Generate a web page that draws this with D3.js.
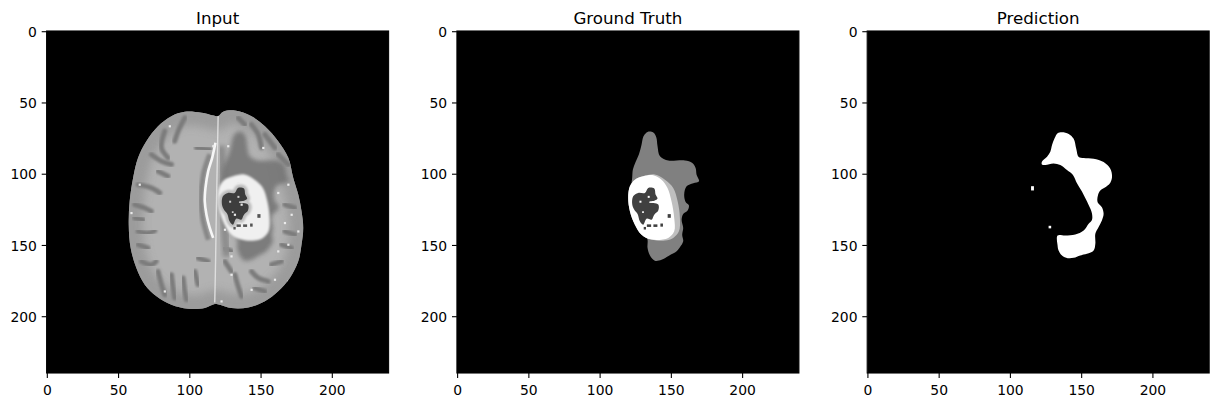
<!DOCTYPE html>
<html><head><meta charset="utf-8">
<script src="https://cdn.jsdelivr.net/npm/d3@7/dist/d3.min.js"></script>
<style>body{margin:0;background:#fff}svg{display:block}</style>
</head><body>
<svg id="fig" width="1222" height="407"></svg>
<script>
// ---- data (image pixel coordinates, 240x240 images) ----
const titles = ["Input", "Ground Truth", "Prediction"];
const tickValues = [0, 50, 100, 150, 200];
const imageSize = 240;

const brainOutline = [[118.7,59.3],[108.2,56.9],[96.5,56.2],[87.1,59.3],[77.7,66.3],[69.5,76.8],[63.7,88.5],[60.2,102.6],[57.8,119],[57.1,135.4],[58.5,151.8],[62.5,165.8],[68.4,177.5],[76.6,185.7],[87.1,191.6],[98.8,194.4],[110.5,193.9],[117.5,191.1],[121,191.6],[129.2,193.9],[141,193.5],[152.7,189.2],[162,182.2],[170.2,172.8],[176.1,161.1],[178.4,149.4],[179.6,137.7],[178.4,126],[176.1,114.3],[172.6,102.6],[169.1,88.5],[162,76.8],[152.7,66.3],[143.3,59.3],[131.6,55.3],[123.4,56.2],[119.9,59.3]];

const sulci = [
 [[96.5,60.4],[91.8,69.8],[89.4,76.8]],
 [[82.4,69.8],[80.1,81.5],[84.7,88.5]],
 [[73.0,86.2],[80.1,90.9],[87.1,93.2]],
 [[63.7,107.3],[73.0,109.6],[78.9,113.1]],
 [[61.3,121.3],[68.4,123.7],[73.0,126.0]],
 [[61.3,130.7],[67.2,131.9]],
 [[63.7,140.1],[70.7,141.2],[75.4,139.6]],
 [[63.7,149.4],[70.7,151.8]],
 [[66.0,161.1],[73.0,163.5],[76.5,161.1]],
 [[77.7,168.2],[80.1,177.5],[82.4,184.6]],
 [[87.1,170.5],[88.3,179.9],[89.4,186.9]],
 [[95.3,172.8],[96.5,182.2],[97.6,188.1]],
 [[103.5,168.2],[105.8,177.5]],
 [[105.8,158.8],[112.9,161.1]],
 [[104.7,81.5],[114.0,82.7]],
 [[77.7,97.9],[84.7,101.4]],
 [[124.6,161.1],[129.2,168.2]],
 [[131.6,170.5],[133.9,178.7],[136.3,185.7]],
 [[143.3,168.2],[148.0,172.8],[155.0,175.2]],
 [[145.6,179.9],[152.7,182.2]],
 [[157.3,163.5],[164.4,161.1]],
 [[164.4,149.4],[171.4,151.8]],
 [[166.7,140.1],[173.7,142.4]],
 [[124.6,151.8],[129.2,154.1]],
 [[143.3,65.1],[148.0,72.1],[150.3,81.5]],
 [[152.7,72.1],[159.7,81.5]],
 [[133.9,60.4],[138.6,65.1]],
 [[162.0,86.2],[169.1,93.2]],
 [[166.7,121.3],[173.7,123.7]]
];

const midline = [[119.9,58],[119.3,90],[118.7,121],[118.1,160],[117.5,190]];
const falx = [[118,78],[115.7,88.5],[112.9,97.9],[111,109.6],[110.5,119],[111.7,128.4],[114,137.7],[116.4,144.7]];
const falxShadow = [[114,86],[109.5,100],[107.8,119],[109.2,132],[113,146]];
const medialBand = [[122,80],[123,100],[123.5,120],[124.5,140],[126,158]];

const brightDots = [[85.9,66.3],[116.4,80.3],[126.9,80.3],[151.5,81.5],[169.1,107.3],[162.0,113.1],[171.4,128.4],[166.7,134.2],[176.1,140.1],[169.1,149.4],[162.0,154.1],[129.2,157.6],[124.6,138.9],[129.2,170.5],[159.7,174.0],[169.1,175.2],[143.3,181.1],[82.4,182.2],[64.8,107.3],[59.0,127.2],[63.7,172.8],[122.2,189.2],[133.9,106.1],[136.3,121.3],[131.6,128.4]];

const edema = [[130.9,72.6],[133.3,70.3],[137.3,70.7],[139.4,74],[140.3,80.3],[142,87.4],[147.8,90.4],[153.7,90.4],[159.5,90.4],[164.7,92.1],[167,95.6],[167.7,100.3],[169.4,104.9],[165.4,106.3],[160.7,108.5],[159,114.3],[160,119.5],[162.3,121.8],[161.4,125.5],[158.3,127.9],[157.2,131.9],[158.3,137.7],[157.6,142.4],[158.3,147.1],[156,151.3],[153.7,154.1],[148.3,157.2],[143.1,160],[138.4,160.7],[134.9,156.9],[133.3,151.8],[133,145],[128,140],[124,133],[122,125],[121.5,117],[121.8,108.5],[122.5,102.6],[123,96.7],[124.9,91.4],[127.2,86.2],[129.1,79.2],[130,74.5]];

const tumorOuter = [[130.2,101.4],[138.4,100.2],[145.5,103.8],[151.3,109.6],[154.4,119.0],[156.0,130.7],[155.3,140.1],[151.3,144.7],[145.5,146.6],[136.1,145.9],[129.1,142.4],[124.4,135.4],[120.9,126.0],[119.7,116.6],[120.9,108.4],[124.4,103.8]];
const tumorEnhancing = [[130.2,101.4],[137.3,100.7],[143.1,103.8],[147.3,109.6],[150.1,119.0],[152.0,130.7],[152.0,140.1],[147.8,144.7],[136.1,145.9],[129.1,142.4],[124.4,135.4],[120.9,126.0],[119.7,116.6],[120.9,108.4],[124.4,103.8]];
const necrotic = [[123.2,115.5],[126.7,113.1],[131.4,113.1],[133.8,109.6],[138.0,110.1],[138.9,114.3],[140.3,117.1],[138.4,118.5],[134.9,119.5],[140.8,121.3],[140.8,125.5],[138.0,128.4],[136.1,131.9],[132.6,131.2],[130.2,135.4],[127.9,133.0],[126.3,127.9],[123.9,124.8],[122.5,120.9]];
const necroticSpots = [[147.4,128.0,2.2,2.6],[132.8,135.2,3.0,1.8],[137.4,135.2,2.8,1.8],[142.3,134.6,1.8,2.2],[130.6,137.0,1.6,1.8]];
const necroticHoles = [[127.6,118.6,1.4,1.4],[133.4,115.2,1.4,1.4],[134.5,119.2,5.5,0.9],[129.5,126.0,1.2,1.2]];

const prediction = [[133.1,71.2],[136.2,70.5],[140.9,71.7],[144.4,75.2],[146.2,82.2],[147.9,88.0],[151.4,88.7],[158.4,89.2],[165.4,91.5],[170.1,96.2],[171.3,102.1],[169.6,106.7],[166.6,109.1],[163.1,111.4],[161.4,114.9],[161.2,119.6],[164.2,123.1],[165.4,127.8],[164.2,132.5],[161.9,137.1],[159.6,141.8],[159.6,148.8],[158.4,153.5],[153.7,155.9],[149.0,157.0],[144.4,158.7],[140.2,158.9],[136.2,157.0],[133.8,153.5],[133.1,150.0],[133.1,143.0],[138.5,143.0],[145.5,142.3],[151.4,139.5],[154.9,134.8],[157.2,132.1],[157.2,127.4],[154.9,121.6],[152.6,116.9],[150.2,112.2],[146.7,106.4],[143.9,100.5],[139.7,97.0],[135.0,93.5],[130.3,92.4],[124.5,93.5],[122.1,93.1],[122.1,91.2],[125.7,87.7],[128.0,84.2],[129.2,79.5],[131.0,74.8]];
const predictionSpecks = [[114.5,108.4,2,3],[126.8,136.2,1.8,1.8]];

// ---- layout ----
const panelLeft0 = 46.6, panelStep = 410.3, panelTop = 31, panelSize = 342;
const svg = d3.select("#fig");
const defs = svg.append("defs");
[["b06",0.6],["b1",1.1],["b2",2.2],["b3",4]].forEach(([id,s])=>{
  defs.append("filter").attr("id",id).attr("x","-20%").attr("y","-20%").attr("width","140%").attr("height","140%")
    .append("feGaussianBlur").attr("stdDeviation",s);
});

const x = d3.scaleLinear().domain([-0.5, imageSize-0.5]).range([0, panelSize]);
const y = d3.scaleLinear().domain([-0.5, imageSize-0.5]).range([0, panelSize]);
const closed = d3.line().x(d=>x(d[0])).y(d=>y(d[1])).curve(d3.curveCatmullRomClosed.alpha(0.5));
const open = d3.line().x(d=>x(d[0])).y(d=>y(d[1])).curve(d3.curveCatmullRom.alpha(0.5));
const font = "DejaVu Sans, Liberation Sans, sans-serif";

titles.forEach((t,i)=>{
  const g = svg.append("g").attr("transform",`translate(${panelLeft0+i*panelStep},${panelTop})`);
  const cid = "clip"+i;
  defs.append("clipPath").attr("id",cid).append("rect").attr("width",panelSize).attr("height",panelSize);
  const img = g.append("g").attr("clip-path",`url(#${cid})`);
  img.append("rect").attr("width",panelSize).attr("height",panelSize).attr("fill","#000");

  if(i===0){
    const bid = "brainclip";
    defs.append("clipPath").attr("id",bid).append("path").attr("d",closed(brainOutline));
    img.append("path").attr("d",closed(brainOutline)).attr("fill","#b2b2b2");
    const b = img.append("g").attr("clip-path",`url(#${bid})`);
    b.append("path").attr("d",closed(brainOutline)).attr("fill","none").attr("stroke","#989898").attr("stroke-width",28).attr("filter","url(#b3)").attr("opacity",0.85);
    b.selectAll(".sul").data(sulci).join("path").attr("d",open).attr("fill","none")
      .attr("stroke","#7c7c7c").attr("stroke-width",5).attr("stroke-linecap","round").attr("filter","url(#b1)");
    b.append("path").attr("d",open(medialBand)).attr("fill","none").attr("stroke","#8c8c8c").attr("stroke-width",8).attr("filter","url(#b2)");
    b.append("path").attr("d",closed(edema)).attr("fill","#767676").attr("filter","url(#b2)").attr("opacity",0.9);
    b.append("path").attr("d",open(falxShadow)).attr("fill","none").attr("stroke","#878787").attr("stroke-width",5).attr("filter","url(#b1)");
    b.append("path").attr("d",closed(tumorOuter)).attr("fill","#f0f0f0").attr("filter","url(#b1)");
    b.append("path").attr("d",closed(necrotic)).attr("fill","none").attr("stroke","#bdbdbd").attr("stroke-width",6).attr("filter","url(#b1)");
    b.append("path").attr("d",closed(necrotic)).attr("fill","#3e3e3e").attr("filter","url(#b06)");
    b.selectAll(".ns").data(necroticSpots).join("rect").attr("x",d=>x(d[0])).attr("y",d=>y(d[1]))
      .attr("width",d=>x(d[2])-x(0)).attr("height",d=>y(d[3])-y(0)).attr("fill","#555");
    b.selectAll(".nh").data(necroticHoles).join("rect").attr("x",d=>x(d[0])).attr("y",d=>y(d[1]))
      .attr("width",d=>x(d[2])-x(0)).attr("height",d=>y(d[3])-y(0)).attr("fill","#cfcfcf");
    b.append("path").attr("d",open(midline)).attr("fill","none").attr("stroke","#dedede").attr("stroke-width",1.4);
    b.append("path").attr("d",open(falx)).attr("fill","none").attr("stroke","#f6f6f6").attr("stroke-width",2.6);
    b.selectAll(".dot").data(brightDots).join("rect").attr("x",d=>x(d[0])-1).attr("y",d=>y(d[1])-1)
      .attr("width",2.2).attr("height",2.2).attr("fill","#eaeaea");
  } else if(i===1){
    img.append("path").attr("d",closed(edema)).attr("fill","#808080");
    img.append("path").attr("d",closed(tumorOuter)).attr("fill","#bfbfbf");
    img.append("path").attr("d",closed(tumorEnhancing)).attr("fill","#ffffff");
    img.append("path").attr("d",closed(necrotic)).attr("fill","#404040");
    img.selectAll(".ns").data(necroticSpots).join("rect").attr("x",d=>x(d[0])).attr("y",d=>y(d[1]))
      .attr("width",d=>x(d[2])-x(0)).attr("height",d=>y(d[3])-y(0)).attr("fill","#404040");
    img.selectAll(".nh").data(necroticHoles).join("rect").attr("x",d=>x(d[0])).attr("y",d=>y(d[1]))
      .attr("width",d=>x(d[2])-x(0)).attr("height",d=>y(d[3])-y(0)).attr("fill","#ffffff");
  } else {
    img.append("path").attr("d",closed(prediction)).attr("fill","#ffffff");
    img.selectAll(".sp").data(predictionSpecks).join("rect").attr("x",d=>x(d[0])).attr("y",d=>y(d[1]))
      .attr("width",d=>x(d[2])-x(0)).attr("height",d=>y(d[3])-y(0)).attr("fill","#ffffff");
  }

  // spines
  g.append("rect").attr("width",panelSize).attr("height",panelSize).attr("fill","none").attr("stroke","#000").attr("stroke-width",1.1);
  // x ticks
  const xt = g.append("g").attr("transform",`translate(0,${panelSize})`);
  xt.selectAll("line").data(tickValues).join("line").attr("x1",d=>x(d)).attr("x2",d=>x(d)).attr("y1",0).attr("y2",4.9).attr("stroke","#000").attr("stroke-width",1.1);
  xt.selectAll("text").data(tickValues).join("text").attr("x",d=>x(d)).attr("y",21.5).attr("text-anchor","middle")
    .attr("font-family",font).attr("font-size",13.9).attr("fill","#000").text(d=>d);
  // y ticks
  const yt = g.append("g");
  yt.selectAll("line").data(tickValues).join("line").attr("y1",d=>y(d)).attr("y2",d=>y(d)).attr("x1",0).attr("x2",-4.9).attr("stroke","#000").attr("stroke-width",1.1);
  yt.selectAll("text").data(tickValues).join("text").attr("y",d=>y(d)+5.1).attr("x",-9.7).attr("text-anchor","end")
    .attr("font-family",font).attr("font-size",13.9).attr("fill","#000").text(d=>d);
  // title
  g.append("text").attr("x",panelSize/2).attr("y",-7.4).attr("text-anchor","middle")
    .attr("font-family",font).attr("font-size",16.7).attr("fill","#000").text(t);
});
</script>
</body></html>
